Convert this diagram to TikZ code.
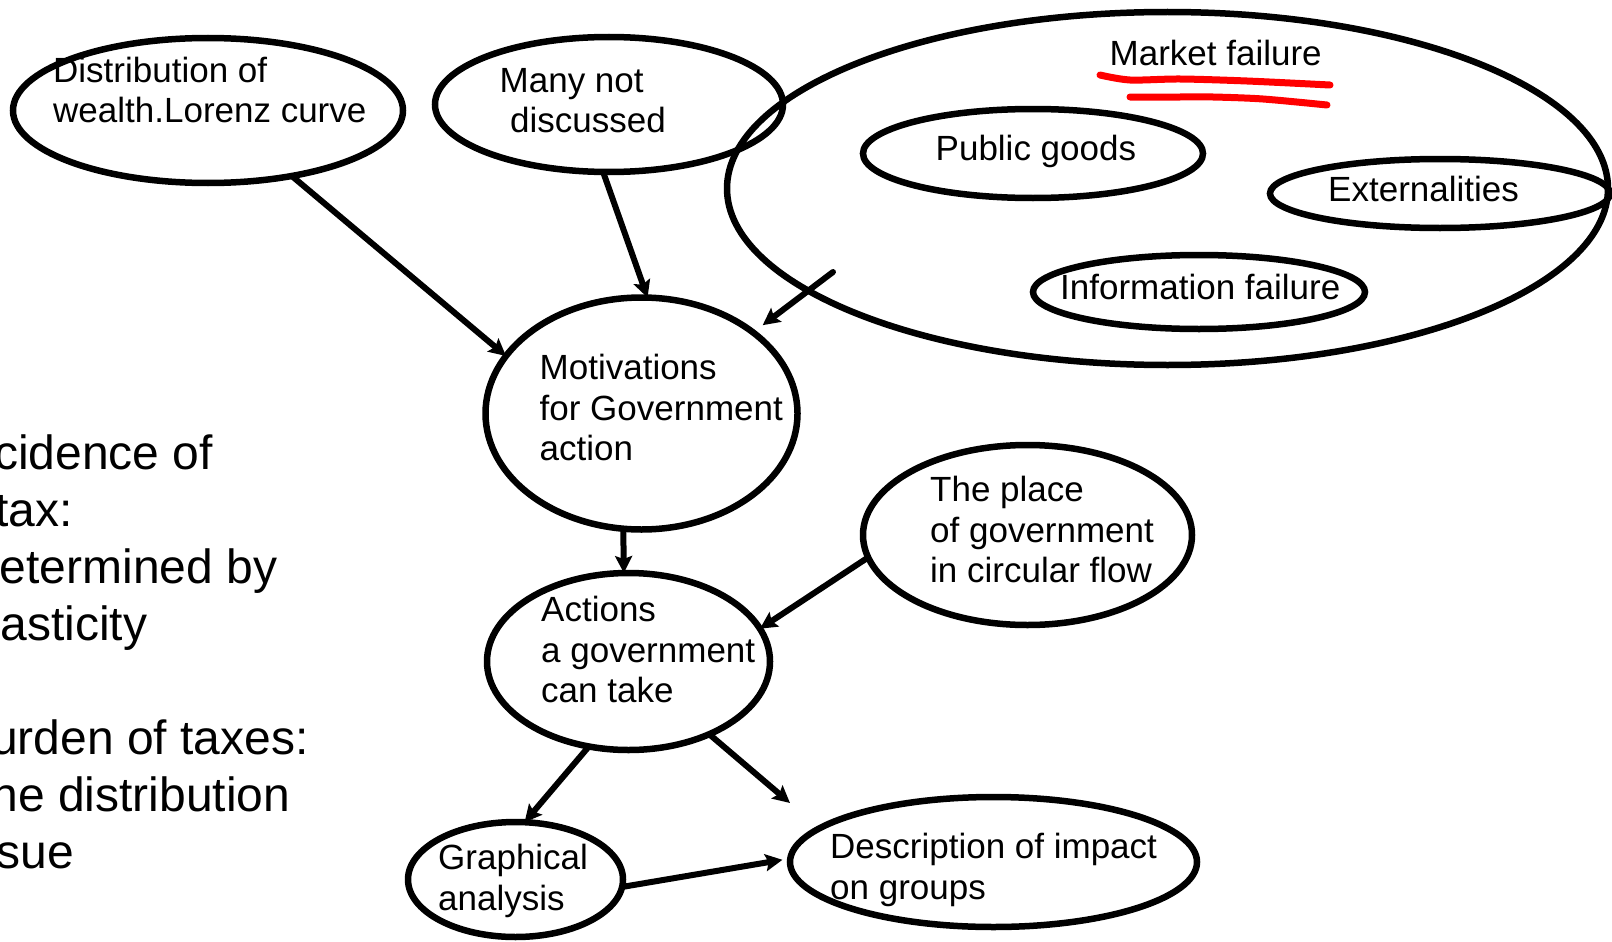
\documentclass[tikz,border=0pt]{standalone}
\usepackage{fontspec}
\setmainfont{Liberation Sans}
\usetikzlibrary{arrows.meta}
\usetikzlibrary{shapes.geometric}
\tikzset{>={Stealth[length=17pt,width=17pt,inset=3pt]}}
\newcommand{\bubblefont}{\fontsize{35}{40.6}\selectfont}
\newcommand{\sidefont}{\fontsize{48}{57}\selectfont}

\begin{document}
\begin{tikzpicture}[x=1pt, y=-1pt,
    bubble/.style={draw, ellipse, line width=6.5pt, inner sep=0pt, outer sep=0pt},
    bubbletext/.style={anchor=north west, align=left, inner sep=0pt, font=\bubblefont},
    link/.style={->, line width=6pt}]
      \clip (0, 0) rectangle (1612, 942);
      \fill[white] (0, 0) rectangle (1612, 942);
      % ellipses
      \node[bubble, minimum width=390pt, minimum height=145pt] (dist) at (208, 110.5) {};
      \node[bubble, minimum width=348pt, minimum height=135pt] (many) at (609, 104.5) {};
      \node[bubble, minimum width=881pt, minimum height=353pt] (market) at (1167.5, 188.5) {};
      \node[bubble, minimum width=340pt, minimum height=89pt] (pubgoods) at (1033, 153.5) {};
      \node[bubble, minimum width=340pt, minimum height=69pt] (extern) at (1440, 193.5) {};
      \node[bubble, minimum width=332pt, minimum height=74pt] (info) at (1199, 292) {};
      \node[bubble, minimum width=312pt, minimum height=232pt] (motiv) at (641.5, 413.5) {};
      \node[bubble, minimum width=329pt, minimum height=180pt] (place) at (1027.5, 535) {};
      \node[bubble, minimum width=283pt, minimum height=177pt] (actions) at (628.5, 661.5) {};
      \node[bubble, minimum width=215pt, minimum height=115pt] (graph) at (515.5, 879.5) {};
      \node[bubble, minimum width=407pt, minimum height=130pt] (desc) at (993.5, 862) {};
      % texts
      \node[bubbletext] (dist-t) at (53, 56.5) {Distribution of\\wealth.Lorenz curve};
      \node[bubbletext] (many-t) at (499.5, 68) {Many not\\\hspace*{.3em}discussed};
      \node[bubbletext] (market-t) at (1109.5, 40) {Market failure};
      \node[bubbletext] (pubgoods-t) at (935.5, 135) {Public goods};
      \node[bubbletext] (extern-t) at (1328, 176) {Externalities};
      \node[bubbletext] (info-t) at (1060, 274) {Information failure};
      \node[bubbletext] (motiv-t) at (539.5, 354) {Motivations\\for Government\\action};
      \node[bubbletext] (place-t) at (930, 476) {The place\\of government\\in circular flow};
      \node[bubbletext] (actions-t) at (541, 596) {Actions\\a government\\can take};
      \node[bubbletext] (graph-t) at (438, 844) {Graphical\\analysis};
      \node[bubbletext] (desc-t) at (830, 833) {Description of impact\\on groups};
      \node[anchor=north west, align=left, inner sep=0pt, font=\sidefont] (tax-t) at (-46, 435)
        {Incidence of\\\hspace*{1pt}a tax:\\\hspace*{11pt}Determined by\\\hspace*{9pt}elasticity\\[57pt]%
         \hspace*{5pt}Burden of taxes:\\\hspace*{8pt}The distribution\\\hspace*{8pt}issue};
      % underline
      \draw[red, line width=7pt, line cap=round] plot[smooth] coordinates
        {(1100, 75) (1130, 80) (1180, 79) (1247, 81) (1330, 85)};
      \draw[red, line width=7pt, line cap=round] plot[smooth] coordinates
        {(1130, 97) (1180, 97) (1213, 97) (1263, 99) (1327, 105)};
      % arrows
      \coordinate (mf-tail) at (833, 272);
      \coordinate (desc-gap) at (790, 803);
      \draw[link] (dist.-38) -- (motiv.157);
      \draw[link] (many.265) -- (motiv.87);
      \draw[link, line cap=round, shorten >=12pt] (mf-tail) -- (motiv.36);
      \draw[link] (motiv.261) -- (actions.93);
      \draw[link] (place.188) -- (actions.14);
      \draw[link] (actions.245) -- (graph.81);
      \draw[link] (actions.-42) -- (desc-gap);
      \draw[link, shorten >=8pt] (graph.-4) -- (desc.179);
\end{tikzpicture}
\end{document}
